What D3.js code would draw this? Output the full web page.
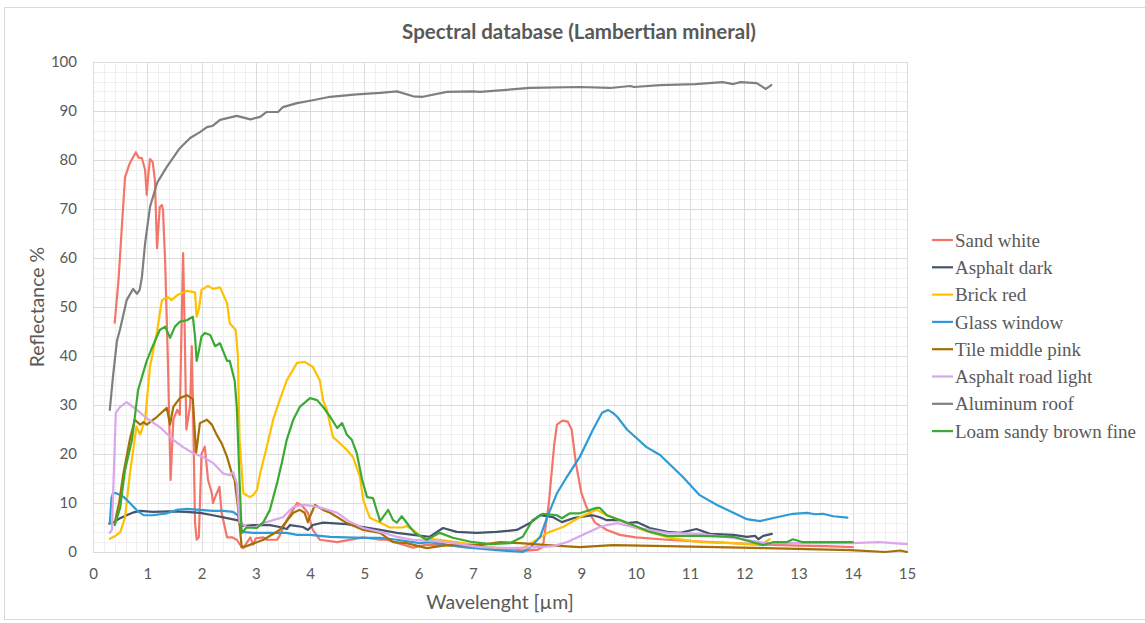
<!DOCTYPE html>
<html>
<head>
<meta charset="utf-8">
<script src="https://cdn.jsdelivr.net/npm/d3@7"></script>
<style>
  html, body { margin: 0; padding: 0; background: #ffffff; }
  svg { display: block; }
</style>
</head>
<body>
<svg id="chart" width="1145" height="623"></svg>
<script>
// Reflectance spectra, [wavelength µm, reflectance %]
const sandWhite = [[0.40,46.8],[0.47,55.5],[0.53,66],[0.59,76.5],[0.68,79.4],[0.79,81.6],[0.84,80.5],[0.90,80.4],[0.96,78],[0.99,72.9],[1.02,77],[1.05,80.2],[1.10,79.6],[1.14,76],[1.18,62],[1.23,70.4],[1.27,70.8],[1.29,69.8],[1.33,59],[1.38,39],[1.43,14.7],[1.48,27],[1.55,29],[1.60,28],[1.63,45],[1.66,61],[1.69,45],[1.72,25],[1.75,27],[1.79,30],[1.82,42],[1.85,25],[1.88,6],[1.91,2.5],[1.95,3],[2.00,20],[2.06,21.5],[2.12,14.7],[2.19,12],[2.21,10],[2.28,12],[2.33,13.3],[2.37,8],[2.47,3],[2.56,3],[2.65,2.5],[2.74,1],[2.77,0.8],[2.83,1.8],[2.90,3],[2.95,1.5],[3.00,2.8],[3.14,3],[3.20,2.5],[3.39,2.5],[3.44,3.3],[3.57,6.5],[3.76,10],[3.85,9.5],[3.96,8],[4.05,4.5],[4.18,2.5],[4.50,2],[4.98,3],[5.29,2.5],[5.41,2.5],[5.90,0.9],[6.15,1.5],[6.60,1.3],[7.13,0.8],[7.60,0.6],[8.00,0.3],[8.20,0.5],[8.29,1],[8.40,10],[8.50,22],[8.55,26],[8.65,26.8],[8.75,26.6],[8.82,25],[8.90,18],[9.00,12],[9.10,9],[9.25,6],[9.47,4.5],[9.71,3.5],[10.00,3],[10.58,2.5],[11.20,2.1],[11.80,1.8],[12.40,1.5],[13.00,1.3],[13.50,1.2],[14.00,1]];
const asphaltDark = [[0.30,5.8],[0.35,5.9],[0.40,6.2],[0.50,6.9],[0.62,7.5],[0.75,8.1],[0.87,8.4],[1.10,8.2],[1.40,8.3],[1.73,8.2],[1.97,8.0],[2.21,7.5],[2.47,6.9],[2.65,6.5],[2.72,6.2],[2.77,5.3],[2.95,5.5],[3.26,5.5],[3.44,5.1],[3.57,4.7],[3.63,5.5],[3.87,5.1],[3.96,4.5],[4.05,5.5],[4.24,6],[4.68,5.7],[4.98,5.1],[5.29,4.5],[5.60,3.9],[5.90,3.5],[6.20,3.1],[6.45,4.9],[6.70,4.1],[7.07,3.9],[7.44,4.1],[7.81,4.5],[8.05,5.9],[8.24,7.5],[8.48,7.1],[8.64,6.1],[8.85,6.9],[9.21,7.5],[9.34,7.1],[9.47,6.5],[9.71,6.5],[9.84,5.9],[10.02,6.1],[10.26,4.9],[10.58,4.1],[10.82,3.9],[11.12,4.7],[11.37,3.7],[11.80,3.5],[12.05,3.1],[12.20,3.3],[12.26,2.6],[12.35,3.3],[12.51,3.7]];
const brickRed = [[0.31,2.7],[0.40,3.2],[0.50,4],[0.56,6],[0.59,7],[0.68,16],[0.80,25.6],[0.87,24],[0.96,27],[1.05,37.8],[1.18,45],[1.27,51.4],[1.38,52],[1.45,51.4],[1.55,52.4],[1.73,53.3],[1.88,53],[1.91,48],[1.95,49.5],[2.00,53.5],[2.12,54.3],[2.21,53.7],[2.34,54],[2.47,50.8],[2.52,46.7],[2.63,45.3],[2.67,40],[2.70,23],[2.77,12],[2.89,11.2],[2.95,11.6],[3.02,12.6],[3.08,16],[3.20,21.4],[3.32,27],[3.44,31],[3.57,35],[3.76,38.6],[3.90,38.8],[4.05,37.8],[4.18,35],[4.24,31],[4.31,29],[4.42,23.5],[4.55,22.2],[4.68,20.8],[4.79,19.4],[4.92,15.3],[4.98,10.6],[5.10,7],[5.29,6],[5.47,5],[5.71,5],[5.78,5.3],[5.90,4.5],[6.08,2.8],[6.39,2.5],[6.82,1.8],[7.44,0.8],[7.92,0.8],[8.18,2.5],[8.37,3.9],[8.66,5.1],[8.97,7.1],[9.28,8.6],[9.47,7.5],[9.84,5.9],[9.95,5.1],[10.58,3],[11.18,2],[11.80,1.8],[12.29,1.4],[12.47,2.6]];
const glassWindow = [[0.31,5.9],[0.34,11],[0.37,12],[0.43,12],[0.56,11.3],[0.68,10],[0.80,8.6],[0.93,7.5],[1.10,7.5],[1.36,7.9],[1.55,8.6],[1.73,8.8],[1.97,8.6],[2.21,8.4],[2.40,8.4],[2.58,8.2],[2.67,7.5],[2.74,4.1],[2.95,3.9],[3.57,3.9],[3.76,3.5],[4.00,3.5],[4.37,3.1],[4.98,2.9],[5.29,2.9],[5.60,2.5],[6.02,1.8],[6.20,2],[6.82,1],[7.44,0.4],[7.92,0],[8.05,0.8],[8.24,3.1],[8.37,7.1],[8.55,12],[8.73,15.3],[8.97,19.4],[9.21,24.9],[9.38,28.4],[9.49,29],[9.58,28.4],[9.66,27.6],[9.84,25],[10.20,21.4],[10.45,19.8],[10.87,15.3],[11.18,11.6],[11.50,9.6],[11.80,8],[12.05,6.7],[12.29,6.3],[12.60,7.1],[12.90,7.8],[13.16,8],[13.30,7.7],[13.45,7.8],[13.64,7.3],[13.90,7]];
const tileMiddlePink = [[0.40,5.9],[0.48,10],[0.56,16],[0.68,23],[0.77,27],[0.87,26],[0.93,26.5],[0.99,26],[1.18,27.6],[1.36,29.4],[1.42,26],[1.48,29.6],[1.60,31.4],[1.73,32],[1.84,31.2],[1.90,20.2],[1.97,26.3],[2.10,27],[2.19,26],[2.28,23.9],[2.37,22.2],[2.47,19.4],[2.56,16],[2.61,14.7],[2.67,9.2],[2.74,1],[2.83,1.2],[3.14,2.5],[3.44,4.5],[3.69,8],[3.81,8.6],[3.90,8],[3.96,6.1],[3.99,7],[4.09,9.6],[4.24,8.6],[4.37,8],[4.68,5.9],[4.98,4.5],[5.29,3.9],[5.53,2],[5.78,1.8],[6.15,0.8],[6.52,1.4],[7.13,1.4],[7.50,2],[7.87,1.8],[8.37,1.4],[8.97,1],[9.58,1.4],[10.58,1.2],[12.40,0.8],[13.95,0.4],[14.60,0],[14.88,0.3],[15.00,0]];
const asphaltRoadLight = [[0.31,3.9],[0.35,4.5],[0.38,15],[0.42,28.4],[0.50,29.6],[0.62,30.6],[0.81,29],[0.99,27.3],[1.23,25.5],[1.48,22.9],[1.66,21.4],[1.84,20.2],[2.03,19.4],[2.21,18.2],[2.40,16],[2.52,15.7],[2.58,16.3],[2.65,14],[2.70,6.1],[2.83,5.1],[3.00,5.1],[3.14,5.9],[3.32,6.5],[3.50,7.1],[3.69,9.2],[3.87,9.6],[4.05,9.4],[4.24,8.9],[4.50,8],[4.74,6.1],[4.98,4.9],[5.29,4.1],[5.60,3.1],[5.90,2.5],[6.52,2],[7.13,1],[7.74,0.8],[8.18,1],[8.48,1.2],[8.73,2],[9.10,3.9],[9.34,5.1],[9.47,5.5],[9.66,5.9],[9.95,5.1],[10.58,3.9],[11.18,3.7],[11.80,2.9],[12.40,1.8],[13.03,1.8],[14.00,1.8],[14.50,2],[15.00,1.6]];
const aluminumRoof = [[0.31,29],[0.37,36],[0.44,43],[0.50,45.5],[0.62,51.4],[0.74,53.7],[0.81,52.7],[0.86,53.5],[0.90,56],[0.96,63],[1.05,70.4],[1.18,75.3],[1.36,78.6],[1.60,82.4],[1.79,84.5],[1.97,85.7],[2.10,86.7],[2.21,87],[2.34,88.2],[2.65,89],[2.90,88.3],[3.08,88.8],[3.20,89.8],[3.41,89.8],[3.50,90.8],[3.76,91.6],[4.05,92.2],[4.37,92.9],[4.86,93.4],[5.29,93.7],[5.60,94],[5.90,93],[6.08,92.9],[6.52,93.9],[7.00,94],[7.13,93.9],[8.05,94.7],[8.97,94.9],[9.53,94.7],[9.90,95.1],[9.97,94.9],[10.45,95.3],[11.10,95.5],[11.60,95.9],[11.80,95.5],[11.93,95.9],[12.23,95.7],[12.40,94.5],[12.50,95.3]];
const loamSandyBrownFine = [[0.40,5.5],[0.50,9],[0.59,16.7],[0.72,23],[0.83,33],[0.99,39],[1.10,42],[1.23,45.3],[1.33,46],[1.42,43.7],[1.51,46],[1.60,47],[1.73,47.3],[1.84,48],[1.88,44],[1.91,39],[1.95,41],[2.00,44],[2.06,44.7],[2.16,44.3],[2.25,42],[2.34,42.6],[2.47,39],[2.52,39],[2.61,35],[2.65,29.6],[2.70,14.7],[2.74,3.9],[2.83,5],[3.02,4.9],[3.14,6.1],[3.26,8.6],[3.39,14],[3.48,18.2],[3.57,22.9],[3.69,27],[3.81,29.6],[4.00,31.4],[4.13,31],[4.24,29.6],[4.37,27.6],[4.50,25.3],[4.59,26.3],[4.68,23.9],[4.77,22.9],[4.86,20.2],[4.96,14.7],[5.05,11.2],[5.16,11],[5.29,6.3],[5.44,8.6],[5.53,6.5],[5.60,6],[5.69,7.3],[5.84,5.1],[5.93,3.9],[6.15,2.5],[6.39,3.9],[6.63,2.9],[7.00,2],[7.32,1.6],[7.68,1.8],[7.92,3.1],[8.10,6.5],[8.29,7.8],[8.55,7.5],[8.64,6.9],[8.79,7.9],[8.97,7.9],[9.28,9],[9.34,9],[9.47,7.5],[9.71,6.5],[9.95,5.5],[10.26,4.1],[10.58,3.3],[11.18,3.3],[11.80,3.1],[12.16,2],[12.35,1.4],[12.53,2],[12.78,2],[12.90,2.6],[13.08,2],[14.00,2]];

const seriesNames = ["Sand white", "Asphalt dark", "Brick red", "Glass window", "Tile middle pink", "Asphalt road light", "Aluminum roof", "Loam sandy brown fine"];
const seriesValues = [sandWhite, asphaltDark, brickRed, glassWindow, tileMiddlePink, asphaltRoadLight, aluminumRoof, loamSandyBrownFine];
const seriesColors = ["#F4766A", "#44546A", "#FFC000", "#2E9BD6", "#A66F06", "#DCA6EC", "#7F7F7F", "#3BAA35"];

const xTicks = d3.range(0, 16, 1);
const yTicks = d3.range(0, 101, 10);

const titleText = "Spectral database (Lambertian mineral)";
const xTitle = "Wavelenght [µm]";
const yTitle = "Reflectance %";

// ---- layout ----
const svg = d3.select("#chart");
const W = 1145, H = 623;
const plot = { left: 93, right: 907, top: 62, bottom: 552 };

const x = d3.scaleLinear().domain([0, 15]).range([plot.left, plot.right]);
const y = d3.scaleLinear().domain([0, 100]).range([plot.bottom, plot.top]);

const textColor = "#595959";
const sansFont = "Lato, 'Open Sans', 'Liberation Sans', sans-serif";

// outer chart frame
svg.append("rect")
  .attr("x", 4.5).attr("y", 7.5)
  .attr("width", W + 10).attr("height", 612)
  .attr("fill", "#ffffff")
  .attr("stroke", "#d9d9d9").attr("stroke-width", 1);

// minor gridlines
const grid = svg.append("g");
grid.selectAll("line.xminor")
  .data(d3.range(0, 15.01, 0.2).filter(v => Math.abs(v - Math.round(v)) > 1e-6))
  .join("line")
  .attr("x1", d => Math.round(x(d)) + 0.5).attr("x2", d => Math.round(x(d)) + 0.5)
  .attr("y1", plot.top).attr("y2", plot.bottom)
  .attr("stroke", "#efefef").attr("stroke-width", 1);
grid.selectAll("line.yminor")
  .data(d3.range(0, 100.01, 2).filter(v => v % 10 !== 0))
  .join("line")
  .attr("x1", plot.left).attr("x2", plot.right)
  .attr("y1", d => Math.round(y(d)) + 0.5).attr("y2", d => Math.round(y(d)) + 0.5)
  .attr("stroke", "#efefef").attr("stroke-width", 1);

// major gridlines
grid.append("g").selectAll("line")
  .data(xTicks)
  .join("line")
  .attr("x1", d => Math.round(x(d)) + 0.5).attr("x2", d => Math.round(x(d)) + 0.5)
  .attr("y1", plot.top).attr("y2", plot.bottom)
  .attr("stroke", "#dcdcdc").attr("stroke-width", 1);
grid.append("g").selectAll("line")
  .data(yTicks)
  .join("line")
  .attr("x1", plot.left).attr("x2", plot.right)
  .attr("y1", d => Math.round(y(d)) + 0.5).attr("y2", d => Math.round(y(d)) + 0.5)
  .attr("stroke", "#dcdcdc").attr("stroke-width", 1);

// axes (labels only; lines come from the grid)
const xAxis = svg.append("g")
  .attr("transform", `translate(0,${plot.bottom})`)
  .call(d3.axisBottom(x).tickValues(xTicks).tickSize(0).tickPadding(16).tickFormat(d3.format("d")));
const yAxis = svg.append("g")
  .attr("transform", `translate(${plot.left},0)`)
  .call(d3.axisLeft(y).tickValues(yTicks).tickSize(0).tickPadding(16).tickFormat(d3.format("d")));
[xAxis, yAxis].forEach(a => {
  a.select(".domain").remove();
  a.selectAll("text")
    .attr("fill", textColor)
    .style("font-family", sansFont)
    .style("font-size", "15px");
});
svg.append("line")
  .attr("x1", plot.left).attr("x2", plot.right)
  .attr("y1", plot.bottom + 0.5).attr("y2", plot.bottom + 0.5)
  .attr("stroke", "#d9d9d9");

// series lines
const line = d3.line().x(d => x(d[0])).y(d => y(d[1]));
svg.append("g").selectAll("path")
  .data(seriesValues)
  .join("path")
  .attr("d", line)
  .attr("fill", "none")
  .attr("stroke", (d, i) => seriesColors[i])
  .attr("stroke-width", 2.2)
  .attr("stroke-linejoin", "round")
  .attr("stroke-linecap", "round");

// title
svg.append("text")
  .attr("x", 579).attr("y", 39)
  .attr("text-anchor", "middle")
  .attr("fill", textColor)
  .style("font-family", sansFont)
  .style("font-weight", "bold")
  .style("font-size", "20.5px")
  .text(titleText);

// axis titles
svg.append("text")
  .attr("x", 500).attr("y", 609)
  .attr("text-anchor", "middle")
  .attr("fill", textColor)
  .style("font-family", sansFont)
  .style("font-size", "19.5px")
  .text(xTitle);
svg.append("text")
  .attr("transform", "translate(44,307) rotate(-90)")
  .attr("text-anchor", "middle")
  .attr("fill", textColor)
  .style("font-family", sansFont)
  .style("font-size", "19.5px")
  .text(yTitle);

// legend
const legend = svg.append("g");
const leg = legend.selectAll("g")
  .data(seriesNames)
  .join("g")
  .attr("transform", (d, i) => `translate(932,${240 + i * 27.3})`);
leg.append("line")
  .attr("x1", 0).attr("x2", 21)
  .attr("y1", 0).attr("y2", 0)
  .attr("stroke", (d, i) => seriesColors[i])
  .attr("stroke-width", 2.2);
leg.append("text")
  .attr("x", 23).attr("y", 0)
  .attr("dy", "0.35em")
  .attr("fill", textColor)
  .style("font-family", "'Liberation Serif', 'DejaVu Serif', serif")
  .style("font-size", "19px")
  .text(d => d);
</script>
</body>
</html>
